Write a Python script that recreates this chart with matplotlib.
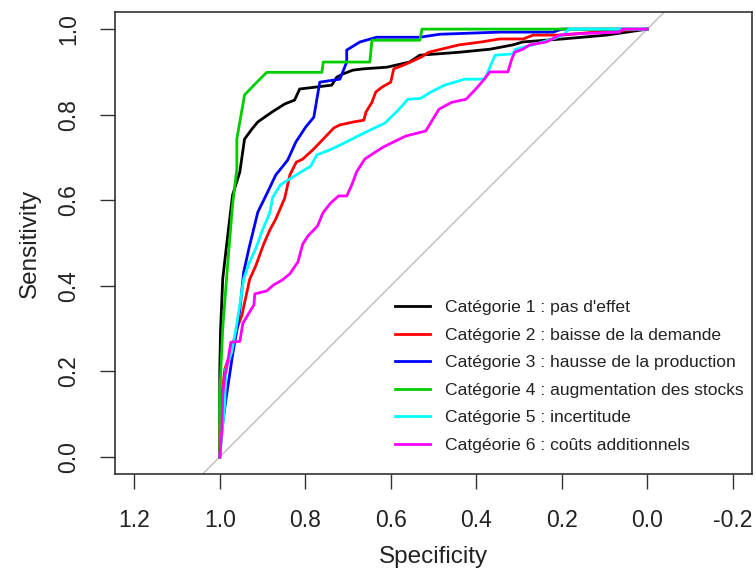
import matplotlib
matplotlib.use("Agg")
import matplotlib.pyplot as plt

plt.rcParams['font.family'] = ['Liberation Sans', 'DejaVu Sans']

labels = ["Catégorie 1 : pas d'effet",
          "Catégorie 2 : baisse de la demande",
          "Catégorie 3 : hausse de la production",
          "Catégorie 4 : augmentation des stocks",
          "Catégorie 5 : incertitude",
          "Catgéorie 6 : coûts additionnels"]
colors = ["black", "red", "blue", "#00CD00", "cyan", "magenta"]

# courbes ROC (specificite, sensibilite)
spec1 = [1.0, 1.0, 0.998, 0.993, 0.984, 0.970, 0.953, 0.942, 0.925, 0.911, 0.878, 0.848, 0.825, 0.813,
         0.738, 0.726, 0.712, 0.689, 0.665, 0.609, 0.556, 0.532, 0.439, 0.368, 0.315, 0.291, 0.198, 0.095, 0.0]
sens1 = [0.0, 0.2, 0.299, 0.416, 0.495, 0.612, 0.666, 0.743, 0.766, 0.783, 0.806, 0.825, 0.834, 0.860,
         0.869, 0.888, 0.895, 0.904, 0.907, 0.911, 0.923, 0.939, 0.946, 0.953, 0.963, 0.970, 0.977, 0.986, 1.0]

spec2 = [1.0, 1.0, 0.995, 0.988, 0.974, 0.960, 0.948, 0.930, 0.916, 0.897, 0.883, 0.869, 0.848, 0.836,
         0.821, 0.806, 0.780, 0.756, 0.733, 0.719, 0.687, 0.663, 0.658, 0.644, 0.635, 0.621, 0.600, 0.593,
         0.565, 0.528, 0.511, 0.441, 0.388, 0.345, 0.290, 0.267, 0.200, 0.100, 0.0]
sens2 = [0.0, 0.065, 0.145, 0.206, 0.245, 0.299, 0.332, 0.415, 0.446, 0.498, 0.530, 0.556, 0.605, 0.659,
         0.689, 0.696, 0.720, 0.745, 0.769, 0.776, 0.783, 0.787, 0.806, 0.829, 0.853, 0.864, 0.876, 0.907,
         0.918, 0.935, 0.946, 0.963, 0.970, 0.977, 0.977, 0.986, 0.986, 0.995, 1.0]

spec3 = [1.0, 0.995, 0.984, 0.970, 0.958, 0.951, 0.944, 0.932, 0.911, 0.888, 0.869, 0.860, 0.841, 0.822,
         0.799, 0.780, 0.766, 0.719, 0.703, 0.703, 0.672, 0.633, 0.532, 0.485, 0.345, 0.220, 0.200, 0.0]
sens3 = [0.0, 0.065, 0.145, 0.238, 0.308, 0.362, 0.432, 0.486, 0.572, 0.619, 0.659, 0.670, 0.694, 0.736,
         0.771, 0.794, 0.876, 0.883, 0.923, 0.951, 0.970, 0.981, 0.981, 0.988, 0.993, 0.993, 1.0, 1.0]

spec4 = [1.0, 1.0, 0.993, 0.981, 0.970, 0.960, 0.960, 0.942, 0.918, 0.890, 0.761, 0.758, 0.649, 0.644,
         0.532, 0.527, 0.0]
sens4 = [0.0, 0.145, 0.300, 0.456, 0.589, 0.673, 0.743, 0.846, 0.871, 0.899, 0.899, 0.923, 0.923, 0.974,
         0.974, 1.0, 1.0]

spec5 = [1.0, 0.995, 0.988, 0.986, 0.972, 0.962, 0.953, 0.944, 0.930, 0.916, 0.899, 0.883, 0.876, 0.858,
         0.836, 0.813, 0.787, 0.773, 0.744, 0.708, 0.677, 0.644, 0.614, 0.583, 0.560, 0.530, 0.506, 0.474,
         0.427, 0.380, 0.366, 0.356, 0.315, 0.308, 0.268, 0.245, 0.215, 0.194, 0.183, 0.0]
sens5 = [0.0, 0.051, 0.128, 0.205, 0.245, 0.299, 0.355, 0.416, 0.456, 0.486, 0.533, 0.570, 0.607, 0.636,
         0.650, 0.664, 0.680, 0.706, 0.717, 0.734, 0.750, 0.766, 0.780, 0.810, 0.836, 0.838, 0.853, 0.869,
         0.883, 0.883, 0.916, 0.939, 0.942, 0.953, 0.963, 0.970, 0.979, 0.988, 1.0, 1.0]

spec6 = [1.0, 0.995, 0.993, 0.988, 0.984, 0.974, 0.953, 0.946, 0.930, 0.920, 0.918, 0.890, 0.874, 0.853,
         0.836, 0.817, 0.806, 0.794, 0.771, 0.759, 0.741, 0.722, 0.703, 0.691, 0.680, 0.661, 0.640, 0.618,
         0.598, 0.565, 0.518, 0.487, 0.457, 0.424, 0.401, 0.387, 0.368, 0.326, 0.317, 0.310, 0.291, 0.275,
         0.236, 0.205, 0.189, 0.065, 0.058, 0.0]
sens6 = [0.0, 0.065, 0.145, 0.191, 0.206, 0.268, 0.270, 0.312, 0.339, 0.355, 0.381, 0.388, 0.402, 0.414,
         0.428, 0.456, 0.497, 0.516, 0.540, 0.570, 0.593, 0.610, 0.610, 0.636, 0.666, 0.696, 0.710, 0.724,
         0.734, 0.750, 0.762, 0.813, 0.829, 0.836, 0.860, 0.876, 0.900, 0.900, 0.930, 0.946, 0.953, 0.963,
         0.970, 0.986, 0.988, 0.993, 1.0, 1.0]

specs = [spec1, spec2, spec3, spec4, spec5, spec6]
senss = [sens1, sens2, sens3, sens4, sens5, sens6]

xticks = [1.2, 1.0, 0.8, 0.6, 0.4, 0.2, 0.0, -0.2]
yticks = [0.0, 0.2, 0.4, 0.6, 0.8, 1.0]

fig = plt.figure(figsize=(7.56, 5.82), dpi=100)
ax = fig.add_axes([115/756, 1 - 474/582, 637/756, 462/582])

# diagonale
ax.plot([1.3, -0.3], [-0.3, 1.3], color="#BEBEBE", lw=1.0, zorder=1)

for s, se, c, lab in zip(specs, senss, colors, labels):
    ax.plot(s, se, color=c, lw=2.0, label=lab, zorder=2)

ax.set_xlim(1.245, -0.245)
ax.set_ylim(-0.04, 1.04)
ax.set_xticks(xticks)
ax.set_xticklabels(["%.1f" % v for v in xticks])
ax.set_yticks(yticks)
ax.set_yticklabels(["%.1f" % v for v in yticks], rotation=90, va="center")
ax.tick_params(direction="out", length=11, width=1.0, color="#333333", labelsize=16.5, pad=14,
               labelcolor="#222222")
for sp in ax.spines.values():
    sp.set_color("#333333")
    sp.set_linewidth(1.2)

ax.set_xlabel("Specificity", fontsize=17.5, color="#222222", labelpad=10)
ax.set_ylabel("Sensitivity", fontsize=17.5, color="#222222", labelpad=12)

leg = ax.legend(loc="upper left", bbox_to_anchor=(395/756, 1 - 300/582), bbox_transform=fig.transFigure,
                frameon=False, fontsize=12.6, handlelength=2.0, handletextpad=0.85, labelspacing=0.7,
                borderpad=0, borderaxespad=0)
for t in leg.get_texts():
    t.set_color("#222222")

fig.savefig("out.png", dpi=100)
